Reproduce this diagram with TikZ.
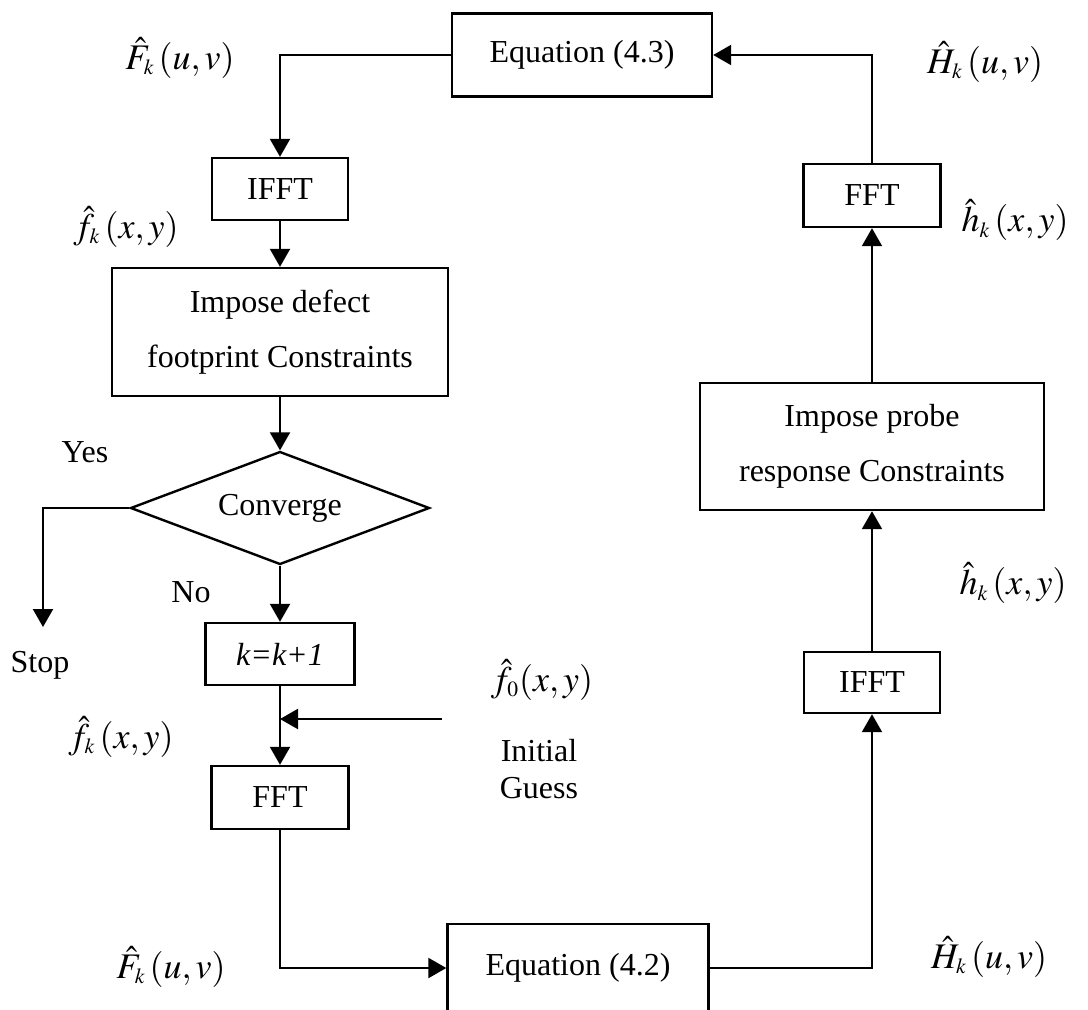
\documentclass[tikz,border=0pt]{standalone}
\usepackage{mathptmx}
\usepackage[no-math]{fontspec}
\setmainfont{Liberation Serif}
\usetikzlibrary{arrows.meta,shapes.geometric}

\newcommand{\subk}{_{\scriptscriptstyle k}\,}
\newcommand{\subzero}{_{\scriptscriptstyle 0}}

\begin{document}
\begin{tikzpicture}[x=0.5pt,y=-0.5pt,
  every node/.style={font=\fontsize{16}{27.5}\selectfont},
  box/.style={draw,line width=1.2pt,rectangle,inner sep=0pt,align=center},
  decide/.style={draw,line width=1.2pt,diamond,inner sep=0pt,aspect=2.5},
  lbl/.style={inner sep=0pt,font=\fontsize{18}{22}\selectfont},
  txt/.style={inner sep=0pt,align=center},
  arr/.style={line width=1.1pt,-{Triangle[length=9pt,width=10pt]}}]

\useasboundingbox (0,0) rectangle (1088,1009);
\clip (0,0) rectangle (1088,1009);

% left branch: defect footprint
\node[box,minimum width=130pt,minimum height=41.5pt] (eq43) at (582,55) {Equation (4.3)};
\node[box,minimum width=68pt,minimum height=31pt] (ifftA) at (280,189) {IFFT};
\node[box,minimum width=168pt,minimum height=64pt] (defect) at (280,332) {Impose defect\\footprint Constraints};
\node[decide,minimum width=149.5pt,minimum height=56.5pt] (conv) at (280,508) {Converge};
\node[box,minimum width=74.5pt,minimum height=31pt] (incr) at (280,654) {\textit{k=k+1}};
\node[box,minimum width=68.5pt,minimum height=31.5pt] (fftA) at (280,797.5) {FFT};
\node[box,minimum width=130.5pt,minimum height=44pt] (eq42) at (578,968) {Equation (4.2)};

% right branch: probe response
\node[box,minimum width=68pt,minimum height=30.5pt] (ifftB) at (872,682.5) {IFFT};
\node[box,minimum width=172pt,minimum height=63.5pt] (probe) at (872,446.5) {Impose probe\\response Constraints};
\node[box,minimum width=68.5pt,minimum height=31.5pt] (fftB) at (872,195.5) {FFT};

% free ends
\coordinate (stopend) at (43,627);
\coordinate (guess) at (442,719);

% connectors
\draw[arr] (eq43.west) -| (ifftA.north);
\draw[arr] (ifftA.south) -- (defect.north);
\draw[arr] (defect.south) -- (conv.north);
\draw[arr] (conv.west) -| (stopend);
\draw[arr] (conv.south) -- (incr.north);
\draw[arr] (incr.south) -- (fftA.north);
\draw[arr] (guess) -- (guess -| incr.south);
\draw[arr] (fftA.south) |- (eq42.west);
\draw[arr] (eq42.east) -| (ifftB.south);
\draw[arr] (ifftB.north) -- (probe.south);
\draw[arr] (probe.north) -- (fftB.south);
\draw[arr] (fftB.north) |- (eq43.east);

% labels
\node[lbl] (lFa) at (180,58) {$\hat{F}\subk(u,v)$};
\node[lbl] (lfa) at (126,227) {$\hat{f}\subk(x,y)$};
\node[lbl] (lHa) at (985,62) {$\hat{H}\subk(u,v)$};
\node[lbl] (lha) at (1015,220) {$\hat{h}\subk(x,y)$};
\node[lbl] (lhb) at (1013,583) {$\hat{h}\subk(x,y)$};
\node[lbl] (lfb) at (121,737) {$\hat{f}\subk(x,y)$};
\node[lbl] (lf0) at (542,680) {$\hat{f}\subzero(x,y)$};
\node[lbl] (lFb) at (171,967) {$\hat{F}\subk(u,v)$};
\node[lbl] (lHb) at (989,957) {$\hat{H}\subk(u,v)$};

\node[txt] (yes) at (85,452) {Yes};
\node[txt] (no) at (191,592) {No};
\node[txt] (stop) at (40,665) {Stop};
\node[txt,font=\fontsize{16}{18.5}\selectfont] (init) at (539,769) {Initial\\Guess};

\end{tikzpicture}
\end{document}
